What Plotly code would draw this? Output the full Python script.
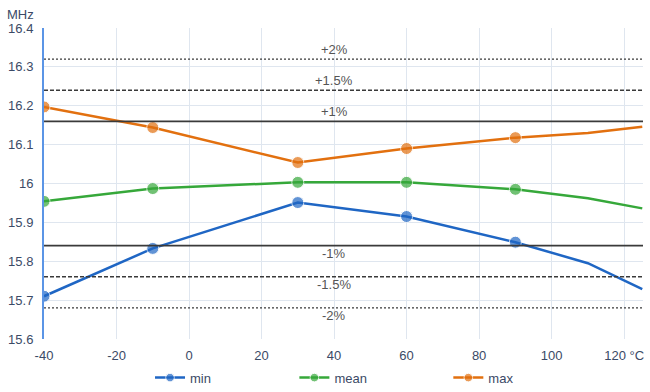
import plotly.graph_objects as go

temps = [-40, -10, 30, 60, 90, 110, 125]
min_vals = [15.71, 15.833, 15.951, 15.915, 15.849, 15.795, 15.728]
mean_vals = [15.954, 15.987, 16.003, 16.003, 15.985, 15.962, 15.936]
max_vals = [16.197, 16.144, 16.054, 16.09, 16.118, 16.13, 16.146]
marked = [True, True, True, True, True, False, False]

ref_levels = [16.32, 16.24, 16.16, 15.84, 15.76, 15.68]
ref_labels = ["+2%", "+1.5%", "+1%", "-1%", "-1.5%", "-2%"]
ref_dash = ["2px,2px", "4px,2px", "solid", "solid", "4px,2px", "2px,2px"]

x_ticks = [-40, -20, 0, 20, 40, 60, 80, 100, 120]
x_ticktext = ["-40", "-20", "0", "20", "40", "60", "80", "100", "120 °C"]
y_ticks = [15.6, 15.7, 15.8, 15.9, 16.0, 16.1, 16.2, 16.3, 16.4]
y_ticktext = ["15.6", "15.7", "15.8", "15.9", "16", "16.1", "16.2", "16.3", "16.4"]

series = [
    ("min", min_vals, "#1f66c4", "legend", 0.177),
    ("mean", mean_vals, "#36a83a", "legend2", 0.418),
    ("max", max_vals, "#e2700f", "legend3", 0.675),
]

fig = go.Figure()
legend_layouts = {}
for name, vals, color, leg, lx in series:
    fig.add_trace(go.Scatter(
        x=temps, y=vals, name=name, mode="lines+markers", legend=leg,
        line=dict(color=color, width=2.5),
        marker=dict(color=color, size=[12 if m else 0 for m in marked]),
    ))
    legend_layouts[leg] = dict(orientation="h", x=lx, xanchor="left", y=-0.076,
                               yanchor="top", bgcolor="rgba(0,0,0,0)",
                               font=dict(size=13, color="#3b4a66"))

for lvl, lab, dash in zip(ref_levels, ref_labels, ref_dash):
    fig.add_shape(type="line", xref="paper", x0=0, x1=1, yref="y", y0=lvl, y1=lvl,
                  line=dict(color="#3a3a3a", width=1.8 if dash == "solid" else 1.4, dash=dash),
                  layer="above")
    fig.add_annotation(x=40, y=lvl, text=lab, showarrow=False,
                       yshift=10 if lvl > 16 else -8,
                       font=dict(size=13, color="#555555"))

fig.add_annotation(xref="paper", yref="paper", x=-0.04, y=1.0, yshift=14, text="MHz",
                   showarrow=False, xanchor="center", yanchor="middle",
                   font=dict(size=13, color="#3b4a66"))

fig.update_layout(
    width=650, height=392,
    margin=dict(l=44, r=7, t=28, b=53, autoexpand=False),
    plot_bgcolor="white", paper_bgcolor="white",
    font=dict(family="Liberation Sans, Arial, sans-serif", size=13, color="#3b4a66"),
    showlegend=True,
    xaxis=dict(range=[-40, 125.2], tickvals=x_ticks, ticktext=x_ticktext,
               showgrid=True, gridcolor="#dfe6ef", gridwidth=1, zeroline=False,
               showline=False, ticks="", tickfont=dict(size=13), ticklabelstandoff=7,
               automargin=False, ticklabeloverflow="allow"),
    yaxis=dict(range=[15.6, 16.4], tickvals=y_ticks, ticktext=y_ticktext,
               showgrid=True, gridcolor="#dfe6ef", gridwidth=1, zeroline=False,
               showline=True, linecolor="#5b95e6", linewidth=2, ticks="",
               tickfont=dict(size=13), ticklabelstandoff=6,
               automargin=False, ticklabeloverflow="allow"),
    **legend_layouts,
)

fig.write_html("out.html", config={"displayModeBar": False},
               post_script="document.body.style.margin='0';")
